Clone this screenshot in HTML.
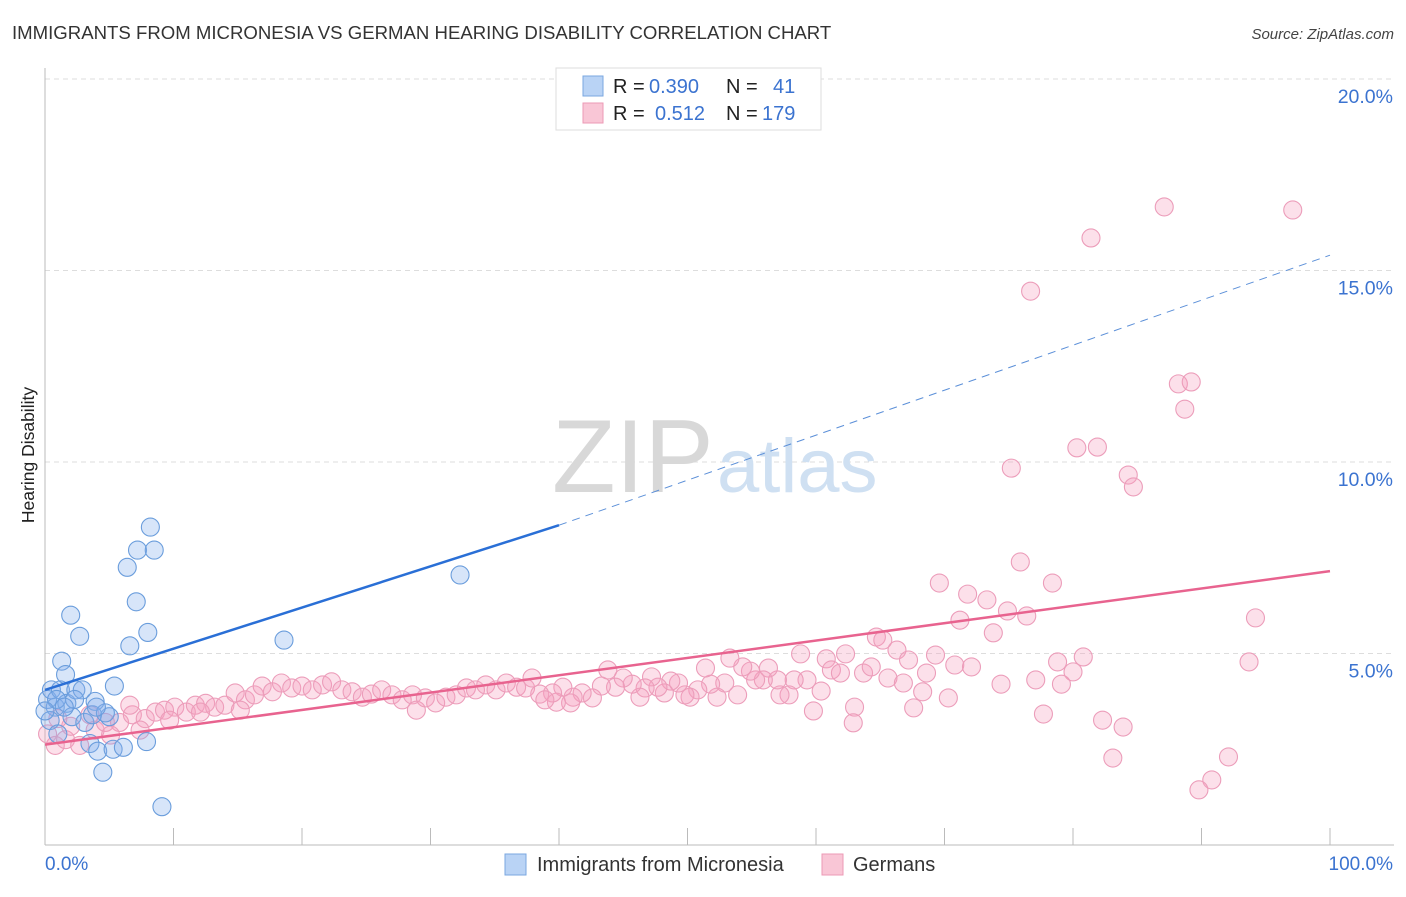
<!DOCTYPE html>
<html><head><meta charset="utf-8"><style>
body{margin:0;background:#fff;font-family:"Liberation Sans",sans-serif}
svg text{font-family:"Liberation Sans",sans-serif}
</style></head><body>
<svg id="chart" width="1406" height="892" xmlns="http://www.w3.org/2000/svg">
<text x="12" y="39" font-size="18.6" fill="#333">IMMIGRANTS FROM MICRONESIA VS GERMAN HEARING DISABILITY CORRELATION CHART</text>
<text x="1394" y="39" font-size="15" fill="#444" text-anchor="end" font-style="italic">Source: ZipAtlas.com</text>
<g id="grid"></g>
<g>
<text x="552" y="492" font-size="104" fill="#d8d8d8" font-family="Liberation Serif,serif">ZIP</text>
<text x="717" y="492" font-size="76" fill="#cfe0f2">atlas</text>
</g>
<g id="axes"></g>
<g id="pink"></g>
<g id="blue"></g>
<g id="lines"></g>
<text transform="translate(34,455) rotate(-90)" font-size="17.5" fill="#222" text-anchor="middle">Hearing Disability</text>
<g>
<rect x="556" y="68" width="265" height="62" fill="#fff" stroke="#ddd"/>
<rect x="583" y="76" width="20" height="20" fill="#b9d3f5" stroke="#7aa7e0"/>
<rect x="583" y="103" width="20" height="20" fill="#f9c6d6" stroke="#ec9ab5"/>
<text x="613" y="93" font-size="20" fill="#222">R = <tspan x="649" fill="#3b73d0">0.390</tspan><tspan x="726">N =</tspan><tspan x="773" fill="#3b73d0">41</tspan></text>
<text x="613" y="120" font-size="20" fill="#222">R = <tspan x="655" fill="#3b73d0">0.512</tspan><tspan x="726">N =</tspan><tspan x="762" fill="#3b73d0">179</tspan></text>
</g>
<g>
<rect x="505" y="854" width="21" height="21" fill="#b9d3f5" stroke="#7aa7e0"/>
<text x="537" y="871" font-size="20" fill="#333">Immigrants from Micronesia</text>
<rect x="822" y="854" width="21" height="21" fill="#f9c6d6" stroke="#ec9ab5"/>
<text x="853" y="871" font-size="20" fill="#333">Germans</text>
</g>
</svg>
<script>
const xTicks=[0,10,20,30,40,50,60,70,80,90,100];
const yTicks=[5,10,15,20];
const yTickLabels=["5.0%","10.0%","15.0%","20.0%"];
const xEndLabels=["0.0%","100.0%"];
const blueX=[0.2,0.5,0.8,1.2,1.3,1.6,1.7,2.0,2.1,2.4,2.7,2.9,3.1,3.5,3.9,4.1,4.5,5.0,5.4,5.3,6.1,6.4,6.6,7.1,7.2,7.9,8.0,8.2,8.5,9.1,18.6,32.3,0.4,0.9,2.3,3.7,4.7,4.0,1.5,0.0,1.0];
const blueY=[3.8,4.05,3.6,4.05,4.8,4.45,3.7,6.0,3.35,4.05,5.45,4.05,3.2,2.65,3.75,2.45,1.9,3.35,4.15,2.5,2.55,7.25,5.2,6.35,7.7,2.7,5.55,8.3,7.7,1.0,5.35,7.05,3.25,3.8,3.8,3.4,3.45,3.6,3.6,3.5,2.9];
const pinkX=[87.1,97.1,81.4,76.7,88.2,89.2,88.7,80.3,81.9,75.2,84.3,84.7,75.9,69.6,78.4,71.8,73.3,71.2,74.9,76.4,94.2,73.8,64.7,65.2,66.3,67.2,69.3,70.8,72.1,80.8,78.8,93.7,80.0,77.1,74.4,79.1,65.6,66.8,68.6,70.3,68.3,67.6,63.0,77.7,82.3,83.9,62.9,83.1,92.1,90.8,89.8,
58.8,60.8,62.3,61.2,61.9,63.7,64.3,59.8,60.4,59.3,58.3,57.9,57.2,57.0,56.3,55.9,55.3,54.9,54.3,53.3,53.9,52.9,52.3,51.8,51.4,50.8,50.2,49.8,49.3,48.7,48.2,47.7,47.2,46.7,46.3,45.7,45.0,44.4,43.8,43.3,42.6,41.8,41.1,40.9,40.3,39.8,39.5,
0.8,0.2,1.6,2.7,3.9,4.7,5.8,6.8,7.8,8.6,9.3,10.1,11.0,11.7,12.5,13.2,14.0,14.8,15.6,16.3,16.9,17.7,18.4,19.2,20.0,20.8,21.6,22.3,23.1,23.9,24.7,25.4,26.2,27.0,27.8,28.6,28.9,29.6,30.4,31.2,32.0,32.8,33.5,34.3,35.1,35.9,36.7,37.4,37.9,38.5,38.9,5.1,3.5,7.4,9.7,12.1,15.2,6.6,2.0,1.0];
const pinkY=[16.66,16.58,15.85,14.46,12.04,12.09,11.38,10.37,10.39,9.84,9.66,9.35,7.39,6.84,6.84,6.55,6.40,5.87,6.11,5.98,5.93,5.54,5.43,5.35,5.09,4.83,4.96,4.70,4.65,4.91,4.78,4.78,4.52,4.31,4.20,4.20,4.36,4.23,4.49,3.84,4.00,3.58,3.60,3.42,3.26,3.08,3.19,2.27,2.30,1.70,1.44,
4.99,4.86,4.99,4.57,4.49,4.49,4.65,3.50,4.02,4.31,4.31,3.92,3.92,4.31,4.62,4.31,4.31,4.54,4.65,4.88,3.92,4.23,3.86,4.20,4.62,4.05,3.86,3.92,4.23,4.28,3.97,4.12,4.39,4.10,3.86,4.20,4.36,4.12,4.57,4.15,3.84,3.97,3.86,3.71,4.12,3.73,3.97,
2.6,2.9,2.75,2.6,3.0,3.2,3.2,3.4,3.3,3.47,3.52,3.6,3.47,3.65,3.7,3.6,3.65,3.97,3.79,3.92,4.15,4.0,4.23,4.1,4.15,4.05,4.18,4.26,4.05,4.0,3.86,3.94,4.05,3.92,3.79,3.92,3.52,3.84,3.71,3.86,3.92,4.10,4.05,4.18,4.05,4.23,4.12,4.10,4.36,3.94,3.79,2.87,3.4,3.0,3.26,3.47,3.52,3.65,3.1,3.3];
const blueTrendX=[0,40,100];
const blueTrendY=[4.05,8.35,15.4];
const pinkTrendX=[0,100];
const pinkTrendY=[2.62,7.15];
const NS="http://www.w3.org/2000/svg";
const X=v=>45+v*12.85, Y=v=>845-v*38.3;
function mk(tag,parent,attrs){const e=document.createElementNS(NS,tag);for(const k in attrs)e.setAttribute(k,attrs[k]);document.getElementById(parent).appendChild(e);return e;}
yTicks.forEach((t,i)=>{
 const l=mk('line','grid',{x1:45,x2:1394,y1:Y(t),y2:Y(t),stroke:'#ddd','stroke-dasharray':'5,4'});
 
 
 const tx=mk('text','grid',{x:1393,y:Y(t)+24,'font-size':19.5,fill:'#3b73d0','text-anchor':'end'});
 tx.textContent=yTickLabels[i];
 
 
});
const ax=mk('line','axes',{x1:45,x2:45,y1:68,y2:845,stroke:'#bbb'});


const bx=mk('line','axes',{x1:45,x2:1394,y1:845,y2:845,stroke:'#bbb'});


xTicks.forEach(t=>{
 const l=mk('line','axes',{x1:X(t),x2:X(t),y1:828,y2:845,stroke:'#bbb'});
 
 
});
[[0,'start'],[100,'end']].forEach((p,i)=>{
 const tx=mk('text','axes',{x:i?X(p[0])+63:X(p[0]),y:870,'font-size':19,fill:'#3b73d0','text-anchor':p[1]});
 tx.textContent=xEndLabels[i];
 
 
});
pinkX.forEach((v,i)=>{
 const c=mk('circle','pink',{cx:X(v),cy:Y(pinkY[i]),r:9,fill:'rgba(246,160,190,0.32)',stroke:'#ec9dba','stroke-width':1.1});
 
 
});
blueX.forEach((v,i)=>{
 const c=mk('circle','blue',{cx:X(v),cy:Y(blueY[i]),r:9,fill:'rgba(130,175,235,0.32)',stroke:'#6a9ddc','stroke-width':1.1});
 
 
});
const b1=mk('line','lines',{x1:X(blueTrendX[0]),y1:Y(blueTrendY[0]),x2:X(blueTrendX[1]),y2:Y(blueTrendY[1]),stroke:'#2a6fd6','stroke-width':2.5});


const b2=mk('line','lines',{x1:X(blueTrendX[1]),y1:Y(blueTrendY[1]),x2:X(blueTrendX[2]),y2:Y(blueTrendY[2]),stroke:'#5b8fd8','stroke-width':1,'stroke-dasharray':'8,6'});


const p1=mk('line','lines',{x1:X(pinkTrendX[0]),y1:Y(pinkTrendY[0]),x2:X(pinkTrendX[1]),y2:Y(pinkTrendY[1]),stroke:'#e8638f','stroke-width':2.5});


</script>
</body></html>
